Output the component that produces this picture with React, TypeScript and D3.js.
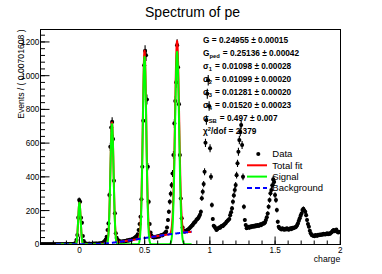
import React from "react";
import * as d3 from "d3";

// Histogram: "charge" binned from -0.3 with width 0.00701608 (328 bins)
const binLow = -0.3;
const binWidth = 0.00701608;

// bins 0-121 : pedestal, 1 p.e., 2 p.e.
const countsLow = [
  0, 0, 0, 0, 0, 0, 0, 0, 0, 0, 0, 0, 0, 0, 0, 0, 0, 0, 0, 0, 0, 0, 0, 0, 0, 0, 0, 0, 1, 0, 0, 1, 0, 1,
  1, 2, 2, 4, 8, 25, 55, 158, 262, 252, 157, 128, 49, 20, 8, 5, 3,
  3, 2, 4, 2, 3, 2, 3, 4, 3, 5, 4, 3, 5, 4, 6, 5, 7,
  10, 14, 20, 28,
  45, 85, 124, 292, 578, 693, 726, 624, 377, 184, 65, 38, 25,
  22, 18, 16, 15, 17, 18, 16, 20, 19, 22, 24, 21, 26, 25, 28, 30, 33, 36, 40,
  45, 49, 60, 85, 120, 163, 267, 460, 732, 1062, 1147, 1121, 859, 460, 252, 120, 70, 52,
];
// bins 122-226 : 3 p.e. and the peaks beyond the fit range
const countsMid = [
  45, 42, 40, 44, 42, 46, 48, 45, 50, 52, 55, 53, 58, 62,
  68, 75, 100, 144, 193, 252, 300, 351, 420, 530, 717, 850, 960, 1181, 1050, 831, 529, 272, 154, 100, 82,
  75, 78, 80, 85, 88, 92, 98, 104, 110, 115, 124, 130, 134, 144, 150, 154,
  165, 175, 193, 273, 312, 357, 430, 602, 736, 893, 973, 820, 569, 401, 233, 150, 110, 104,
  95, 85, 90, 95, 100, 98, 105, 110, 108, 115, 120, 125, 134, 138, 144, 150, 173, 190, 213, 252,
  290, 322, 351, 410, 480, 549, 618, 667, 707, 589, 400, 223, 144, 114, 95, 100,
];
// bins 227-327
const countsHigh = [
  104, 98, 105, 102, 108, 104, 110, 106, 112, 108, 114, 110, 112, 118, 114, 120, 124, 124, 130, 144, 160, 183,
  223, 262, 302, 322, 350, 385, 370, 292, 262, 203, 134, 104, 95, 92,
  88, 95, 90, 86, 92, 88, 95, 90, 86, 92, 95, 90, 98, 95, 100, 100,
  104, 112, 124, 140, 154, 170, 183, 203, 210, 200, 193, 173, 144, 120, 104, 80, 65, 55, 52,
  50, 48, 55, 52, 50, 56, 54, 58, 55, 60, 57, 62, 60, 58, 62, 65, 60, 64, 62, 68,
  72, 80, 85, 78, 82, 88, 75, 70, 72, 74,
];

// Fit model (signal = gaussian peaks, background)
const peakMeans = [0, 0.24955, 0.4991, 0.74865];
const peakHeights = [245, 712, 1110, 1140];
const peakSigmas = [0.0095, 0.0122, 0.0136, 0.0158];
const bgCharge = [-0.18, 0.1, 0.15, 0.2, 0.25, 0.3, 0.35, 0.4, 0.45, 0.5, 0.55, 0.6, 0.65, 0.7, 0.75, 0.8, 0.86];
const bgLevel = [0, 0, 2, 5, 9, 14, 19, 25, 31, 37, 43, 49, 55, 60, 65, 70, 74];
const fitRange = [-0.18, 0.86];

const xTicks = [0, 0.5, 1, 1.5, 2];
const xMinorTicks = d3.range(-0.2, 2.01, 0.1);
const yTicks = [0, 200, 400, 600, 800, 1000, 1200];
const yMinorTicks = d3.range(0, 1275, 40);

const W = 382;
const H = 274;
const FONT = "'Liberation Sans', Arial, Helvetica, sans-serif";

export default function App() {
  const counts = [...countsLow, ...countsMid, ...countsHigh];
  const x = d3.scaleLinear().domain([-0.3, 2.0]).range([40.3, 340.3]);
  const y = d3.scaleLinear().domain([0, 1275]).range([244.3, 29.3]);
  const x0 = 40.5, x1 = 340.5, yTop = 29.5, yBot = 244.5;

  const bgAt = d3.scaleLinear().domain(bgCharge).range(bgLevel).clamp(true);
  const sig = (c: number) =>
    d3.sum(peakMeans, (m, i) => peakHeights[i] * Math.exp(-0.5 * ((c - m) / peakSigmas[i]) ** 2));

  const xs = d3.range(fitRange[0], fitRange[1] + 1e-9, 0.0004);
  const mk = (f: (c: number) => number) =>
    d3
      .line<number>()
      .x((c) => x(c))
      .y((c) => y(f(c)))(xs) || "";
  const totalPath = mk((c) => sig(c) + bgAt(c));
  const sigPath = mk((c) => sig(c));
  const bgPath = mk((c) => bgAt(c));

  const pts = counts.map((n, i) => {
    const c = binLow + (i + 0.5) * binWidth;
    const e = n > 0 ? Math.sqrt(n) : 1.15;
    return { c, n, lo: Math.max(0, n - (n > 0 ? e : 0)), hi: n + e };
  });

  const statY = (k: number) => 42.5 + 13 * k;
  const sub = (s: string) => (
    <>
      <tspan fontSize={5.8} dy={2}>{s}</tspan>
      <tspan dy={-2}>{"\u200a"}</tspan>
    </>
  );

  return (
    <svg
      width={W}
      height={H}
      style={{ position: "absolute", left: 0, top: 0, background: "#fff" }}
      fontFamily={FONT}
    >
      <rect x={0} y={0} width={W} height={H} fill="#fff" />
      <text x={192.5} y={16.8} fontSize={14} textAnchor="middle" fill="#000">
        Spectrum of pe
      </text>

      <defs>
        <clipPath id="frame">
          <rect x={x0} y={yTop} width={x1 - x0} height={yBot - yTop} />
        </clipPath>
      </defs>

      {/* data */}
      <g clipPath="url(#frame)">
        {pts.map((p, i) => (
          <g key={i}>
            <line x1={x(p.c)} x2={x(p.c)} y1={y(p.lo)} y2={y(p.hi)} stroke="#000" strokeWidth={1.1} />
            <line x1={x(p.c - binWidth / 2)} x2={x(p.c + binWidth / 2)} y1={y(p.n)} y2={y(p.n)} stroke="#000" strokeWidth={1} />
            <circle cx={x(p.c)} cy={y(p.n)} r={2.05} fill="#000" />
          </g>
        ))}
        <path d={totalPath} fill="none" stroke="#ff0000" strokeWidth={2} />
        <path d={sigPath} fill="none" stroke="#00ff00" strokeWidth={2} />
        <path d={bgPath} fill="none" stroke="#0000ff" strokeWidth={2} strokeDasharray="5,3" />
      </g>

      {/* frame */}
      <rect x={x0} y={yTop} width={x1 - x0} height={yBot - yTop} fill="none" stroke="#000" strokeWidth={1} />

      {/* y axis */}
      {yMinorTicks.map((v) => (
        <line key={"ym" + v} x1={x0} x2={x0 + 4.5} y1={y(v)} y2={y(v)} stroke="#000" strokeWidth={1} />
      ))}
      {yTicks.map((v) => (
        <g key={"y" + v}>
          <line x1={x0} x2={x0 + 9} y1={y(v)} y2={y(v)} stroke="#000" strokeWidth={1} />
          <text x={39.3} y={y(v)} dy="0.36em" fontSize={8.2} textAnchor="end" fill="#000">
            {v}
          </text>
        </g>
      ))}
      <text
        transform={`translate(24,${yTop}) rotate(-90)`}
        fontSize={8.6}
        textAnchor="end"
        fill="#000"
      >
        Events / ( 0.00701608 )
      </text>

      {/* x axis */}
      {xMinorTicks.map((v) => (
        <line key={"xm" + v} x1={x(v)} x2={x(v)} y1={yBot} y2={yBot - 4} stroke="#000" strokeWidth={1} />
      ))}
      {xTicks.map((v) => (
        <g key={"x" + v}>
          <line x1={x(v)} x2={x(v)} y1={yBot} y2={yBot - 8} stroke="#000" strokeWidth={1} />
          <text x={x(v)} y={252.6} fontSize={8.2} textAnchor="middle" fill="#000">
            {v}
          </text>
        </g>
      ))}
      <text x={340.3} y={261.8} fontSize={8.7} textAnchor="end" fill="#000">
        charge
      </text>

      {/* fit parameters */}
      <g fontSize={8.3} fontWeight="bold" fill="#000">
        <text x={203} y={statY(0)}>G = 0.24955 ± 0.00015</text>
        <text x={203} y={statY(1)}>G{sub("ped")} = 0.25136 ± 0.00042</text>
        <text x={203} y={statY(2)}>σ{sub("1")} = 0.01098 ± 0.00028</text>
        <text x={203} y={statY(3)}>σ{sub("2")} = 0.01099 ± 0.00020</text>
        <text x={203} y={statY(4)}>σ{sub("3")} = 0.01281 ± 0.00020</text>
        <text x={203} y={statY(5)}>σ{sub("4")} = 0.01520 ± 0.00023</text>
        <text x={203} y={statY(6)}>σ{sub("SB")} = 0.497 ± 0.007</text>
        <text x={203} y={statY(7)}>
          χ<tspan fontSize={5.8} dy={-3}>2</tspan>
          <tspan dy={3}>/dof = 2.379</tspan>
        </text>
      </g>

      {/* legend */}
      <g fontSize={9.5} fill="#000">
        <circle cx={258.3} cy={154} r={2.05} fill="#000" />
        <text x={272.3} y={157.4}>Data</text>
        <line x1={247} x2={267} y1={165.3} y2={165.3} stroke="#ff0000" strokeWidth={2} />
        <text x={272.3} y={168.7}>Total fit</text>
        <line x1={247} x2={267} y1={176.6} y2={176.6} stroke="#00ff00" strokeWidth={2} />
        <text x={272.3} y={180}>Signal</text>
        <line x1={247} x2={267} y1={188} y2={188} stroke="#0000ff" strokeWidth={2} strokeDasharray="5,3" />
        <text x={272.3} y={191.4}>Background</text>
      </g>
    </svg>
  );
}
